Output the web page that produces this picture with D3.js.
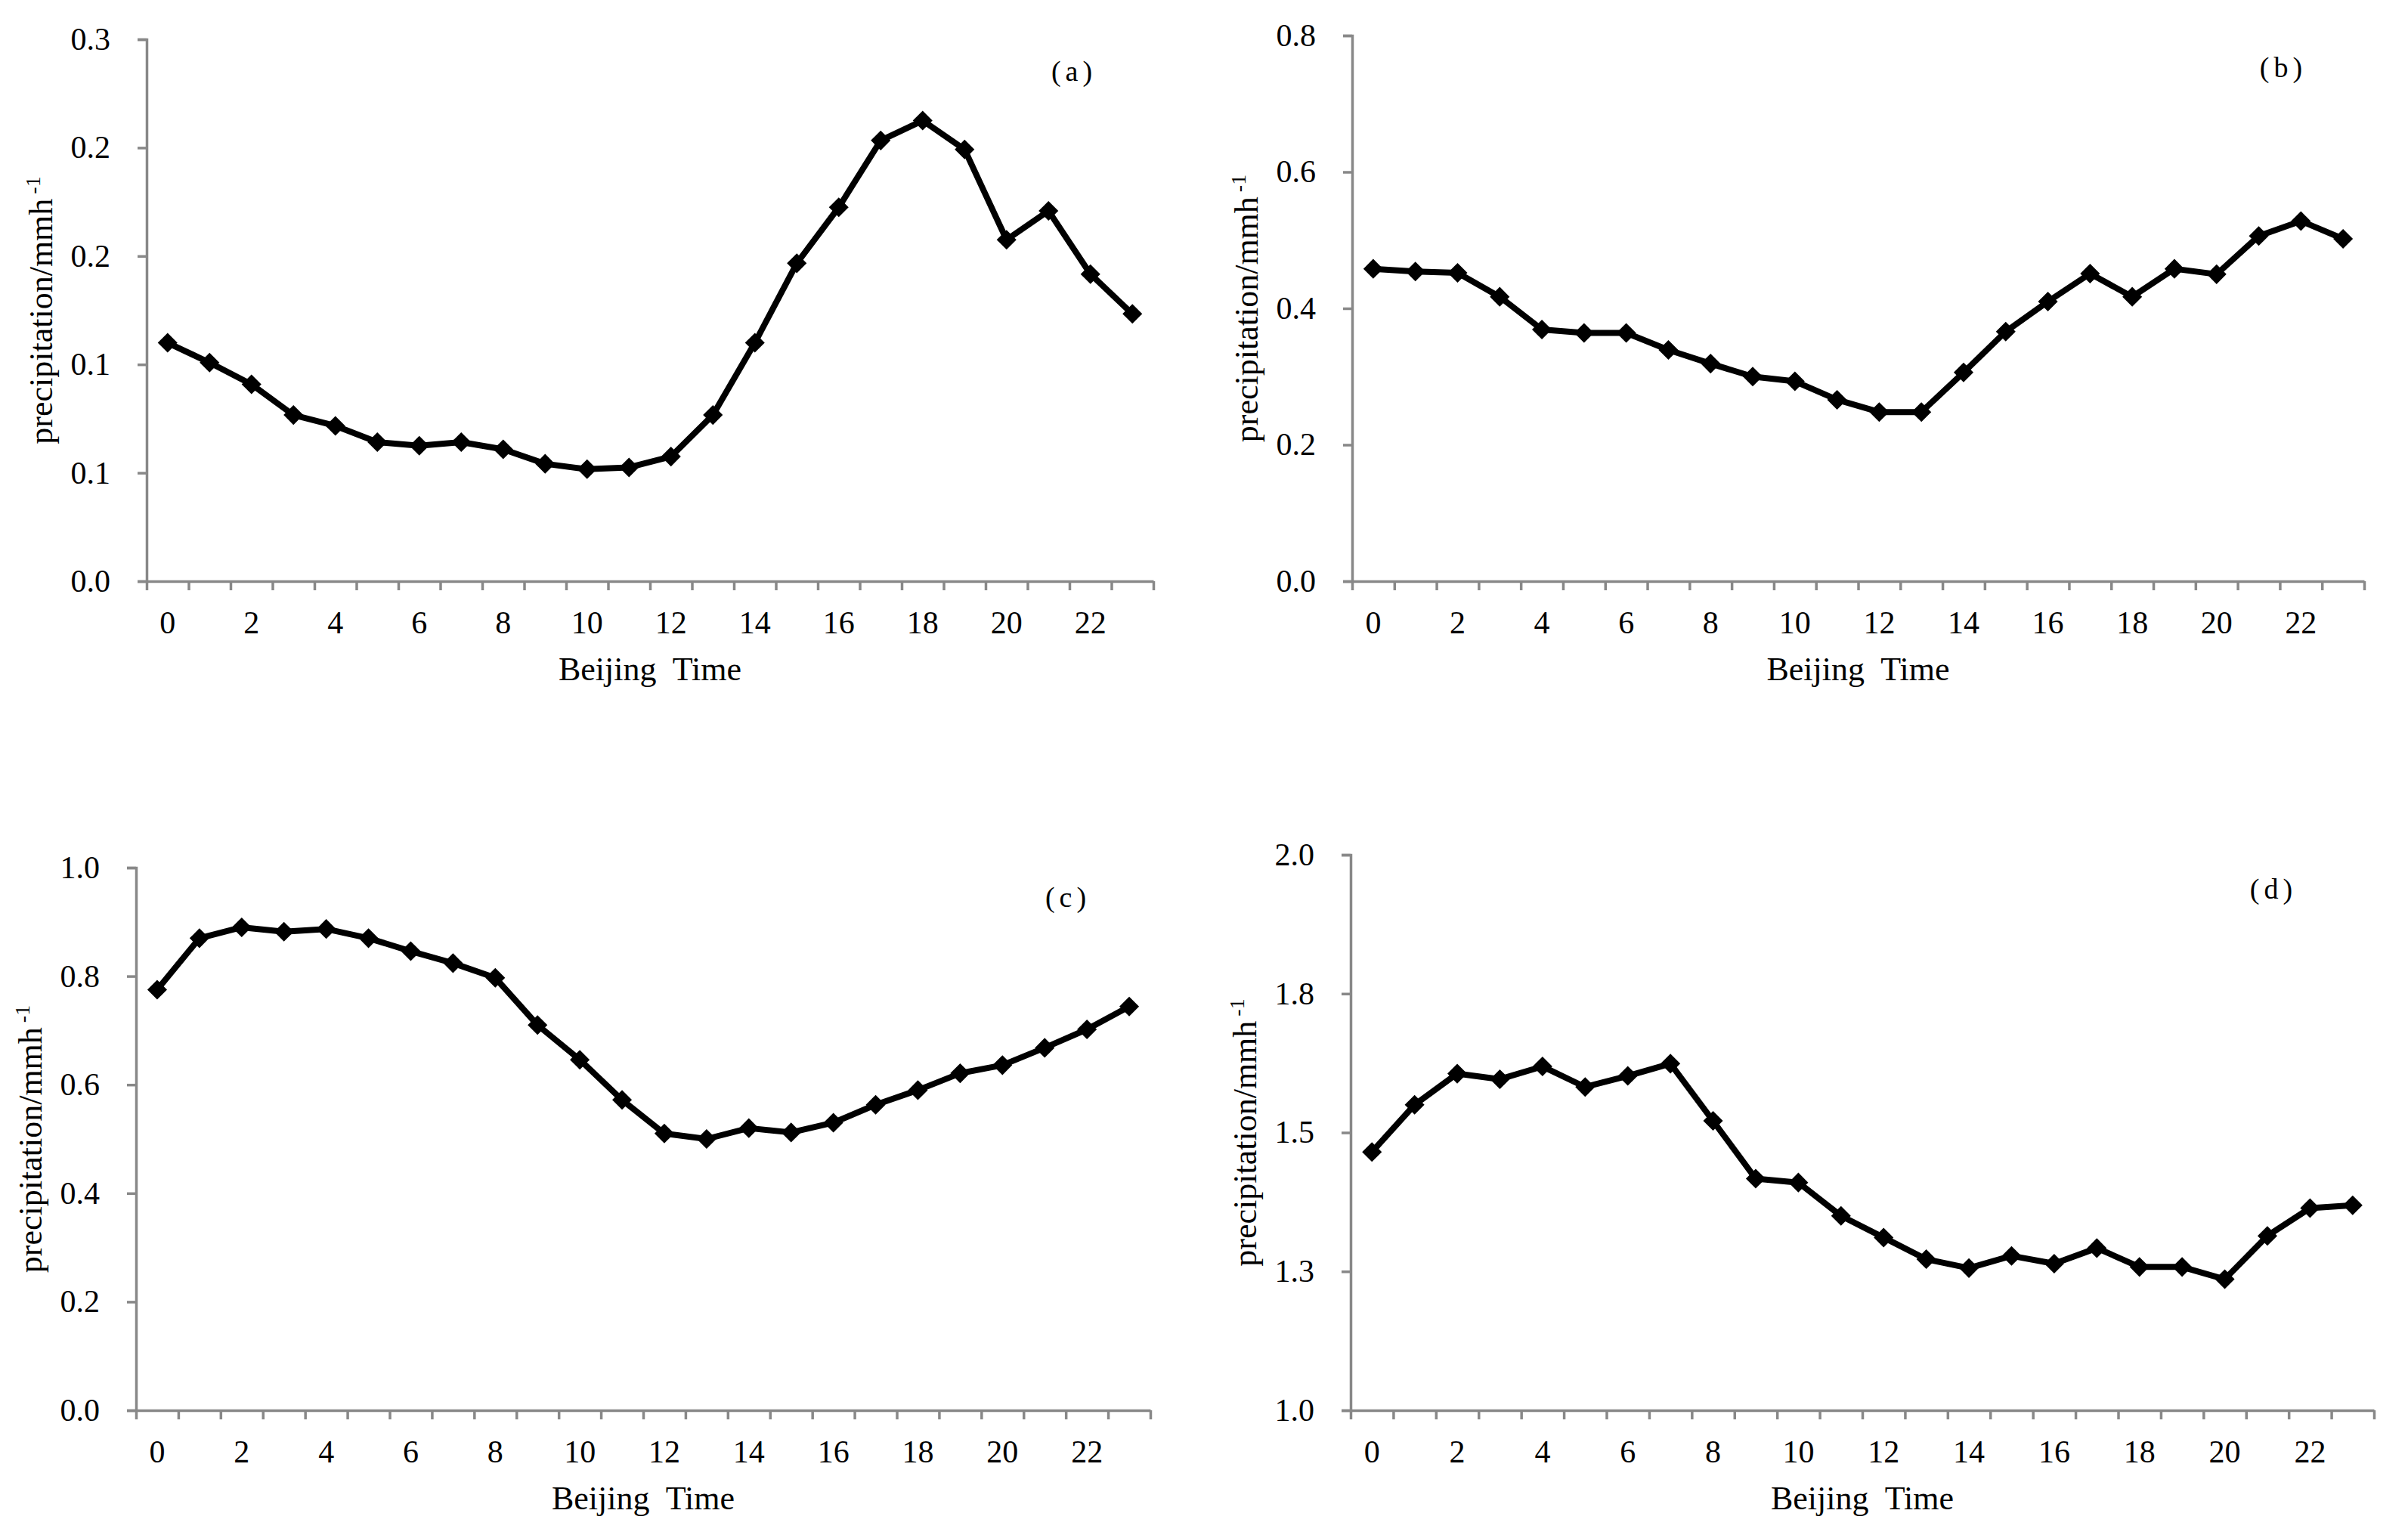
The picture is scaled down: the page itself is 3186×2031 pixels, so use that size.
<!DOCTYPE html>
<html>
<head>
<meta charset="utf-8">
<script src="https://cdnjs.cloudflare.com/ajax/libs/d3/7.8.5/d3.min.js"></script>
<style>
body{margin:0;background:#fff;}
svg{display:block;font-family:"Liberation Serif",serif;}
</style>
</head>
<body>
<div id="chart"></div>
<script>
// hours of the day (Beijing time)
var hours = [0,1,2,3,4,5,6,7,8,9,10,11,12,13,14,15,16,17,18,19,20,21,22,23];
var hourLabels = [0,2,4,6,8,10,12,14,16,18,20,22];

// mean hourly precipitation, mm/h
var precipA = [0.132,0.121,0.109,0.092,0.086,0.077,0.075,0.077,0.073,0.065,0.062,0.063,
               0.069,0.092,0.132,0.176,0.207,0.244,0.255,0.239,0.189,0.205,0.170,0.148];
var precipB = [0.458,0.454,0.452,0.417,0.369,0.364,0.364,0.339,0.319,0.300,0.293,0.266,
               0.248,0.248,0.306,0.366,0.410,0.451,0.417,0.458,0.450,0.506,0.528,0.502];
var precipC = [0.775,0.870,0.890,0.882,0.887,0.870,0.846,0.824,0.797,0.710,0.646,0.572,
               0.510,0.500,0.520,0.512,0.530,0.563,0.590,0.621,0.636,0.668,0.702,0.744];
var precipD = [1.465,1.550,1.606,1.596,1.619,1.582,1.602,1.624,1.521,1.417,1.410,1.350,
               1.311,1.272,1.256,1.278,1.264,1.292,1.258,1.258,1.236,1.314,1.364,1.369];

// y tick values (labels are rounded to one decimal, as in the figure)
var ticksA = [0, 0.06, 0.12, 0.18, 0.24, 0.30];
var ticksB = [0, 0.2, 0.4, 0.6, 0.8];
var ticksC = [0, 0.2, 0.4, 0.6, 0.8, 1.0];
var ticksD = [1.0, 1.25, 1.5, 1.75, 2.0];

var panelNames = ["(a)", "(b)", "(c)", "(d)"];

var W = 3186, H = 2031;
var font = "Liberation Serif, serif";
var axisColor = "#888888";

var panels = [
  {name: panelNames[0], values: precipA, ticks: ticksA, left: 194,  right: 1526, top: 52,   bottom: 769,  lx: 1421, ly: 107},
  {name: panelNames[1], values: precipB, ticks: ticksB, left: 1789, right: 3128, top: 47,   bottom: 769,  lx: 3021, ly: 102},
  {name: panelNames[2], values: precipC, ticks: ticksC, left: 180,  right: 1522, top: 1148, bottom: 1866, lx: 1413, ly: 1200},
  {name: panelNames[3], values: precipD, ticks: ticksD, left: 1787, right: 3141, top: 1131, bottom: 1866, lx: 3008, ly: 1189}
];

var svg = d3.select("#chart").append("svg")
  .attr("width", W)
  .attr("height", H);

svg.append("rect").attr("width", W).attr("height", H).attr("fill", "#fff");

function styleAxis(sel){
  sel.attr("font-family", font).attr("font-size", 42);
  sel.selectAll("path,line").attr("stroke", axisColor).attr("stroke-width", 3.5);
  sel.selectAll("text").attr("fill", "#000");
}

panels.forEach(function(p){
  var x = d3.scaleBand().domain(hours).range([p.left, p.right]);
  var xEdge = d3.scaleLinear().domain([0, hours.length]).range([p.left, p.right]);
  var y = d3.scaleLinear()
    .domain([p.ticks[0], p.ticks[p.ticks.length - 1]])
    .range([p.bottom, p.top]);

  var g = svg.append("g");

  // y axis
  g.append("g")
    .attr("transform", "translate(" + p.left + ",0)")
    .call(d3.axisLeft(y).tickValues(p.ticks).tickFormat(d3.format(".1f"))
      .tickSize(12).tickSizeOuter(12).tickPadding(36))
    .call(styleAxis);

  // x axis: tick marks between the hours
  g.append("g")
    .attr("transform", "translate(0," + p.bottom + ")")
    .call(d3.axisBottom(xEdge).tickValues(d3.range(hours.length + 1))
      .tickFormat("").tickSize(12).tickSizeOuter(0))
    .call(styleAxis);

  // x axis: labels every second hour, centred on the hour
  g.append("g")
    .attr("transform", "translate(0," + p.bottom + ")")
    .call(d3.axisBottom(x).tickValues(hourLabels).tickSize(0).tickPadding(39))
    .call(styleAxis)
    .call(function(a){ a.select(".domain").remove(); });

  var pts = hours.map(function(h, i){ return {h: h, v: p.values[i]}; });

  var line = d3.line()
    .x(function(d){ return x(d.h) + x.bandwidth() / 2; })
    .y(function(d){ return y(d.v); });

  g.append("path")
    .datum(pts)
    .attr("d", line)
    .attr("fill", "none")
    .attr("stroke", "#000")
    .attr("stroke-width", 8)
    .attr("stroke-linejoin", "round");

  g.selectAll(".pt")
    .data(pts)
    .enter().append("path")
    .attr("class", "pt")
    .attr("d", d3.symbol().type(d3.symbolSquare).size(340))
    .attr("transform", function(d){
      return "translate(" + (x(d.h) + x.bandwidth() / 2) + "," + y(d.v) + ") rotate(45)";
    })
    .attr("fill", "#000");

  // y title
  var yt = g.append("text")
    .attr("transform", "translate(" + (p.left - 125) + "," + ((p.top + p.bottom) / 2) + ") rotate(-90)")
    .attr("text-anchor", "middle")
    .attr("font-family", font)
    .attr("font-size", 44)
    .attr("fill", "#000");
  yt.append("tspan").text("precipitation/mmh");
  yt.append("tspan").attr("dx", 6).attr("dy", -16).attr("font-size", 28).text("-1");

  // x title
  g.append("text")
    .attr("x", (p.left + p.right) / 2)
    .attr("y", p.bottom + 131)
    .attr("text-anchor", "middle")
    .attr("font-family", font)
    .attr("font-size", 44)
    .style("white-space", "pre")
    .attr("fill", "#000")
    .text("Beijing  Time");

  // panel letter
  g.append("text")
    .attr("x", p.lx)
    .attr("y", p.ly)
    .attr("text-anchor", "middle")
    .attr("font-family", font)
    .attr("font-size", 38)
    .attr("letter-spacing", 6)
    .attr("fill", "#000")
    .text(p.name);
});
</script>
</body>
</html>
